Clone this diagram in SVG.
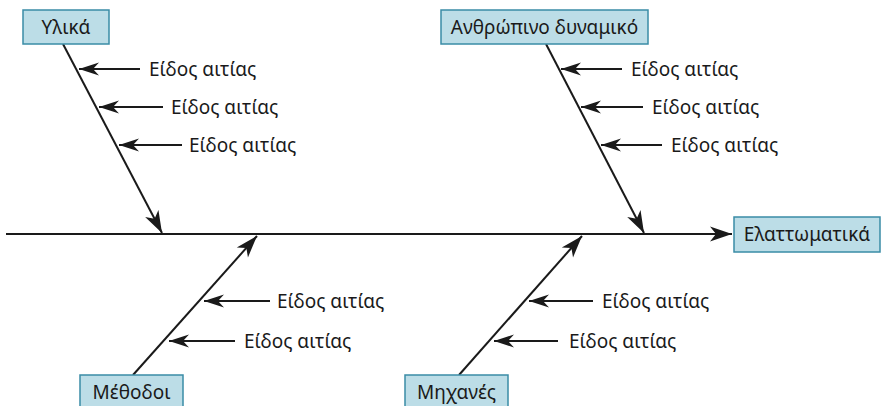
<svg xmlns="http://www.w3.org/2000/svg" width="881" height="406" viewBox="0 0 881 406">
<defs>
<marker id="ah" markerUnits="userSpaceOnUse" markerWidth="26" markerHeight="18" viewBox="-24 -9 26 18" refX="0" refY="0" orient="auto">
<path d="M0,0 L-22,-7.5 L-16,0 L-22,7.5 Z" fill="#1a1a1a"/>
</marker>
<marker id="sh" markerUnits="userSpaceOnUse" markerWidth="22" markerHeight="16" viewBox="-21 -8 22 16" refX="0" refY="0" orient="auto">
<path d="M0,0 L-20,-6.5 L-14,0 L-20,6.5 Z" fill="#1a1a1a"/>
</marker>
</defs>
<style>
.box{fill:#bcdde7;stroke:#3a8ca6;stroke-width:1.5}
.lbl{font-family:"Noto Sans","DejaVu Sans",sans-serif;font-size:19px;fill:#1a1a1a}
.mid{text-anchor:middle}
.ln{stroke:#1a1a1a;stroke-width:2;fill:none}
.big{marker-end:url(#ah)}
.sm{marker-end:url(#sh)}
</style>
<g id="connectors">
<line class="ln big" x1="6" y1="234" x2="732" y2="234"/>
<line class="ln big" x1="63" y1="44" x2="162" y2="233"/>
<line class="ln big" x1="546" y1="44" x2="644" y2="233"/>
<line class="ln big" x1="133" y1="375" x2="257" y2="236"/>
<line class="ln big" x1="459" y1="375" x2="582" y2="236"/>
<line class="ln sm" x1="140" y1="69" x2="79" y2="69"/>
<line class="ln sm" x1="163" y1="107" x2="99" y2="107"/>
<line class="ln sm" x1="182" y1="145" x2="119" y2="145"/>
<line class="ln sm" x1="622" y1="69" x2="561" y2="69"/>
<line class="ln sm" x1="643" y1="107" x2="581" y2="107"/>
<line class="ln sm" x1="662" y1="145" x2="601" y2="145"/>
<line class="ln sm" x1="270" y1="301" x2="204" y2="301"/>
<line class="ln sm" x1="235" y1="341" x2="169" y2="341"/>
<line class="ln sm" x1="593" y1="301" x2="529" y2="301"/>
<line class="ln sm" x1="558" y1="341" x2="494" y2="341"/>
</g>
<g id="cause-labels">
<text class="lbl" x="149" y="76">Είδος αιτίας</text>
<text class="lbl" x="171" y="114">Είδος αιτίας</text>
<text class="lbl" x="189" y="152">Είδος αιτίας</text>
<text class="lbl" x="631" y="76">Είδος αιτίας</text>
<text class="lbl" x="652" y="114">Είδος αιτίας</text>
<text class="lbl" x="671" y="152">Είδος αιτίας</text>
<text class="lbl" x="277" y="308">Είδος αιτίας</text>
<text class="lbl" x="244" y="348">Είδος αιτίας</text>
<text class="lbl" x="602" y="308">Είδος αιτίας</text>
<text class="lbl" x="569" y="348">Είδος αιτίας</text>
</g>
<g id="node-materials">
<rect class="box" x="23" y="10" width="86" height="34"/>
<text class="lbl mid" x="66" y="34">Υλικά</text>
</g>
<g id="node-people">
<rect class="box" x="441" y="10" width="207" height="34"/>
<text class="lbl mid" x="544.5" y="34">Ανθρώπινο δυναμικό</text>
</g>
<g id="node-defects">
<rect class="box" x="734" y="217" width="146" height="35"/>
<text class="lbl mid" x="807" y="241">Ελαττωματικά</text>
</g>
<g id="node-methods">
<rect class="box" x="80" y="375" width="103" height="40"/>
<text class="lbl mid" x="131.5" y="399">Μέθοδοι</text>
</g>
<g id="node-machines">
<rect class="box" x="405" y="375" width="103" height="40"/>
<text class="lbl mid" x="456.5" y="399">Μηχανές</text>
</g>
</svg>
